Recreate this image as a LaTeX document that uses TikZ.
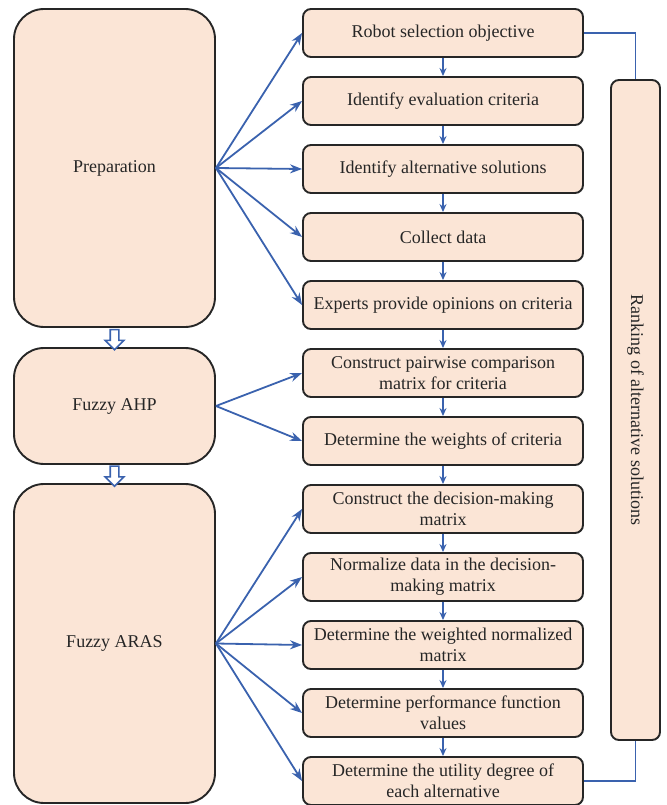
\documentclass[tikz,border=0pt]{standalone}
\usepackage{fontspec}
\setmainfont{Liberation Serif}
\usetikzlibrary{arrows.meta,positioning,calc,shapes.arrows}
\definecolor{stepfill}{HTML}{FBE5D6}
\definecolor{flowblue}{HTML}{3A62AE}
\definecolor{boxline}{HTML}{262626}

\begin{document}
\begin{tikzpicture}[x=1pt,y=-1pt,
  phase/.style={draw=boxline,line width=1.9pt,rounded corners=30pt,fill=stepfill,minimum width=201pt,align=center,text=boxline,font=\fontsize{18}{21}\selectfont},
  task/.style={draw=boxline,line width=1.9pt,rounded corners=8pt,fill=stepfill,minimum width=280pt,minimum height=48pt,inner sep=2pt,align=center,text=boxline,font=\fontsize{18}{21}\selectfont},
  arrow/.style={-{Stealth[length=12pt,width=9pt]},line width=1.8pt,draw=flowblue},
  down/.style={-{Stealth[length=8pt,width=7pt]},line width=1.8pt,draw=flowblue},
  link/.style={line width=1.8pt,draw=flowblue},
  hollow/.style={single arrow,draw=flowblue,fill=white,line width=1.6pt,single arrow head extend=5pt,minimum height=20pt,inner sep=3.5pt,rotate=-90}
]
\useasboundingbox (0,0) rectangle (666,805);
% phases
\node[phase,minimum height=318pt] (prep) at (114.5,168) {Preparation};
\node[phase,minimum height=116pt] (ahp) at (114.5,406) {Fuzzy AHP};
\node[phase,minimum height=319pt] (aras) at (114.5,643.5) {Fuzzy ARAS};
\node[hollow] (h1) at ($(prep.south)!0.5!(ahp.north)$) {};
\node[hollow] (h2) at ($(ahp.south)!0.5!(aras.north)$) {};
% steps
\node[task] (objective) at (443,33) {Robot selection objective};
\node[task] (criteria) at (443,101) {Identify evaluation criteria};
\node[task] (alternatives) at (443,169) {Identify alternative solutions};
\node[task] (collect) at (443,237) {Collect data};
\node[task] (experts) at (443,305) {Experts provide opinions on criteria};
\node[task] (pairwise) at (443,373) {Construct pairwise comparison\\matrix for criteria};
\node[task] (weights) at (443,441) {Determine the weights of criteria};
\node[task] (decision) at (443,509) {Construct the decision-making\\matrix};
\node[task] (normalize) at (443,577) {Normalize data in the decision-\\making matrix};
\node[task] (weighted) at (443,645) {Determine the weighted normalized\\matrix};
\node[task] (performance) at (443,713) {Determine performance function\\values};
\node[task] (utility) at (443,781) {Determine the utility degree of\\each alternative};
\node[draw=boxline,line width=1.9pt,rounded corners=8pt,fill=stepfill,minimum width=49pt,minimum height=660pt,text=boxline,font=\fontsize{18}{21}\selectfont] (ranking) at (635.5,410) {\rotatebox{-90}{Ranking of alternative solutions}};
% fan-out arrows
\foreach \t in {objective,criteria,alternatives,collect,experts}
  \draw[arrow] (prep.east) -- (\t.west);
\foreach \t in {pairwise,weights}
  \draw[arrow] (ahp.east) -- (\t.west);
\foreach \t in {decision,normalize,weighted,performance,utility}
  \draw[arrow] (aras.east) -- (\t.west);
% step sequence
\foreach \a/\b in {objective/criteria,criteria/alternatives,alternatives/collect,collect/experts,experts/pairwise,pairwise/weights,weights/decision,decision/normalize,normalize/weighted,weighted/performance,performance/utility}
  \draw[down] (\a.south) -- (\b.north);
\draw[link] (objective.east) -| (ranking.north);
\draw[link] (ranking.south) |- (utility.east);
\end{tikzpicture}
\end{document}
